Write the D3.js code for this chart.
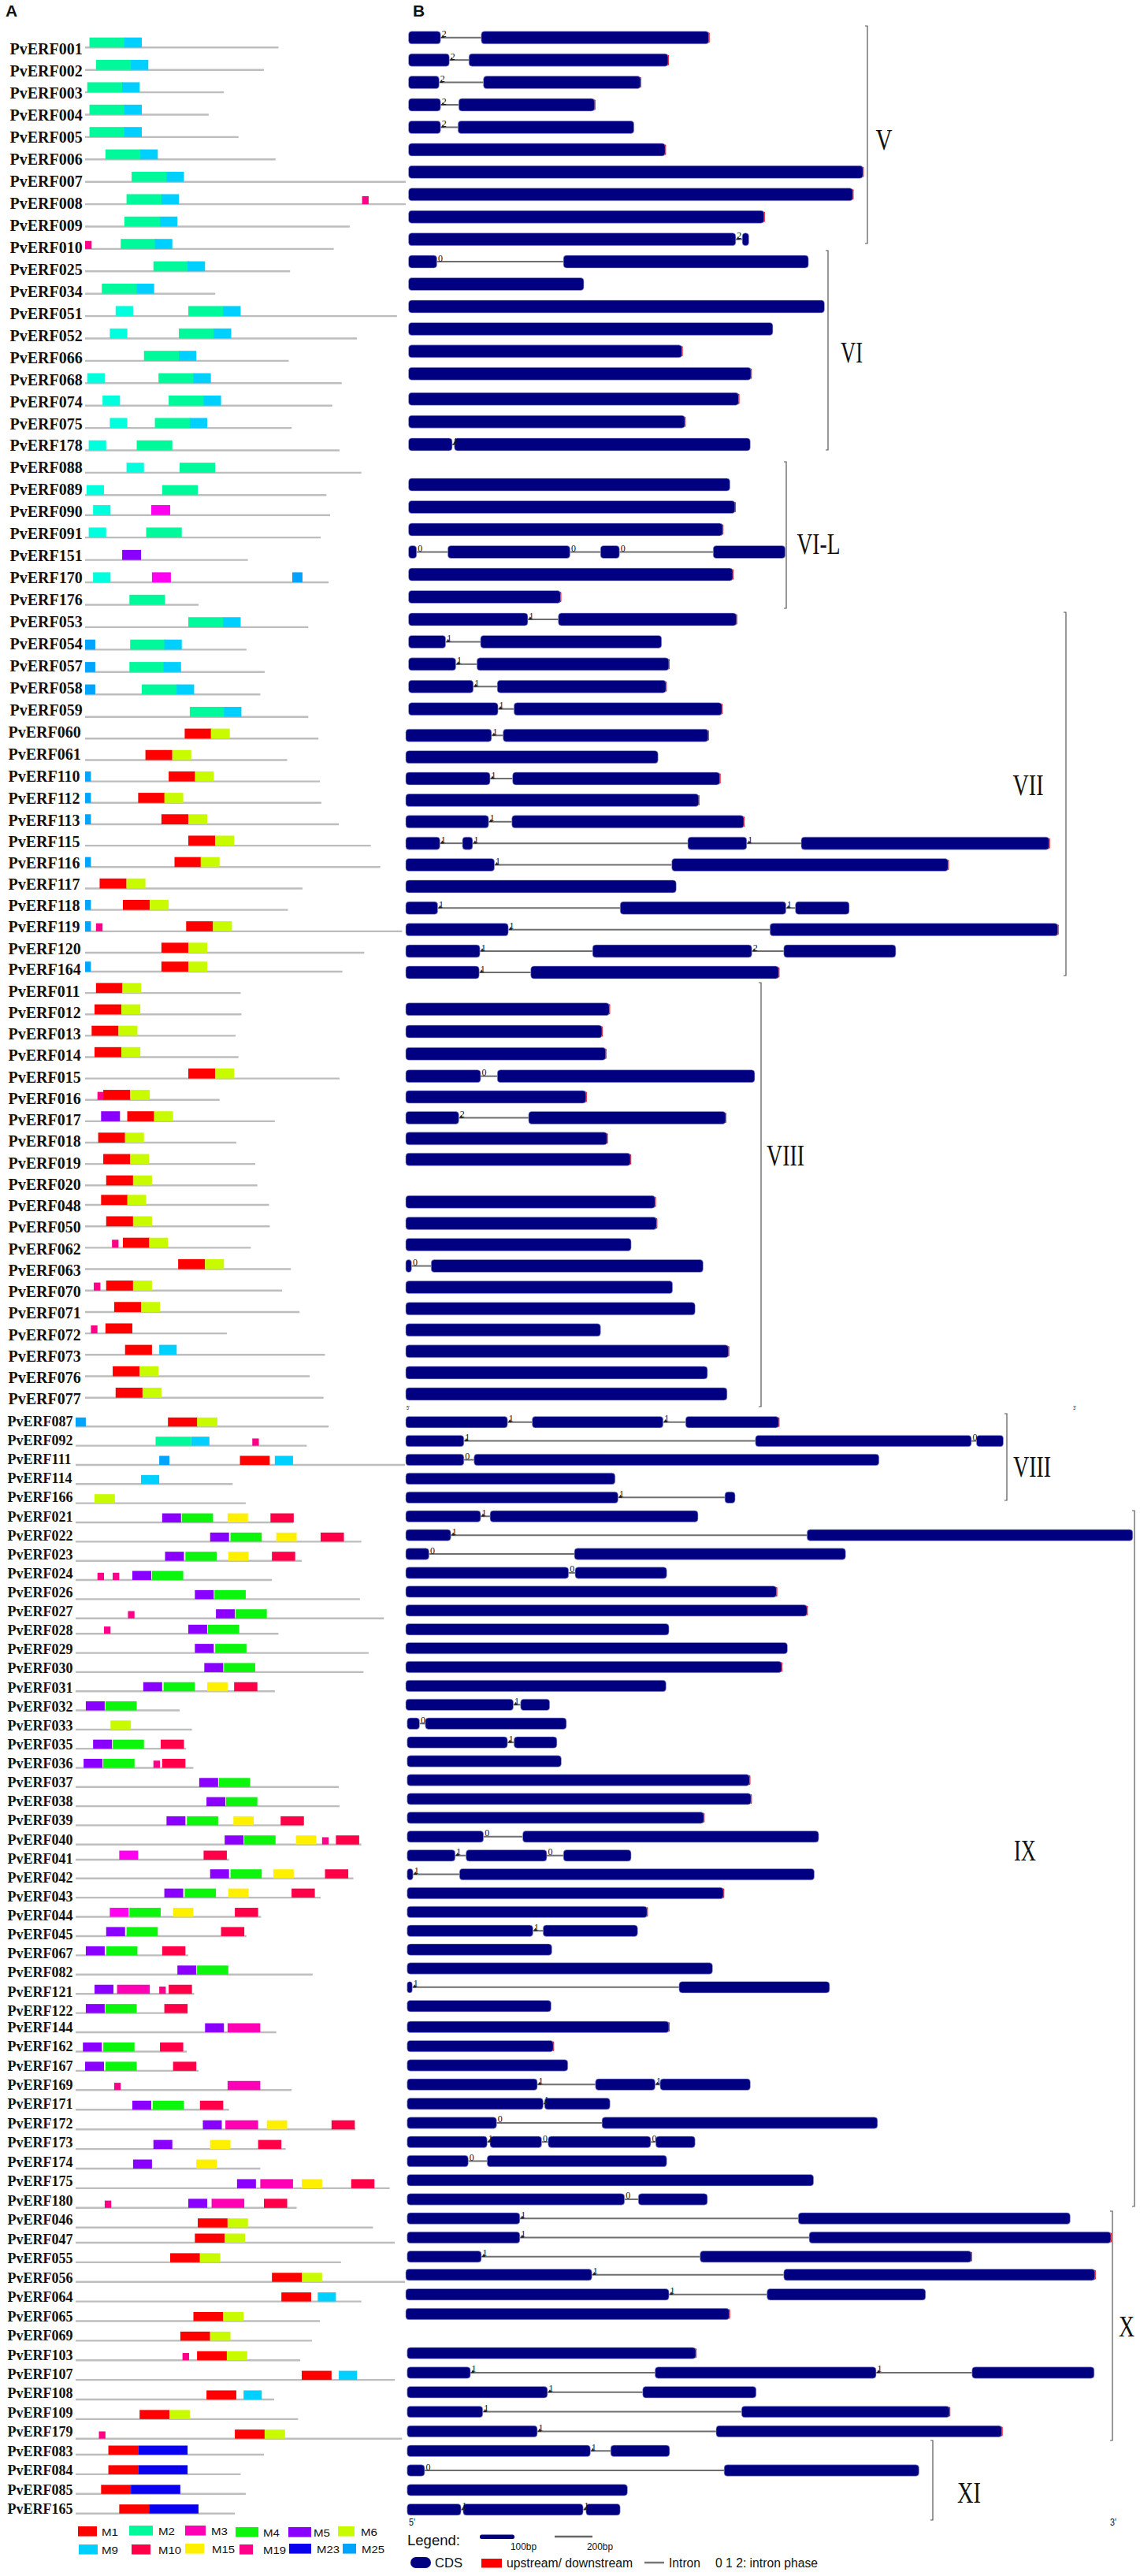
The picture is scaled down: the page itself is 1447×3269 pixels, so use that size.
<!DOCTYPE html>
<html>
<head>
<meta charset="utf-8">
<title>PvERF motifs and gene structure</title>
<script src="https://cdnjs.cloudflare.com/ajax/libs/d3/7.8.5/d3.min.js"></script>
<style>
  body { margin: 0; background: #fff; }
  svg { display: block; }
  text { fill: #111; }
</style>
</head>
<body>
<div id="chart"></div>
<script>
// Gene names, one per row, top to bottom
var geneNames = ["PvERF001","PvERF002","PvERF003","PvERF004","PvERF005","PvERF006","PvERF007","PvERF008","PvERF009","PvERF010",
  "PvERF025","PvERF034","PvERF051","PvERF052","PvERF066","PvERF068","PvERF074","PvERF075","PvERF178","PvERF088",
  "PvERF089","PvERF090","PvERF091","PvERF151","PvERF170","PvERF176","PvERF053","PvERF054","PvERF057","PvERF058",
  "PvERF059","PvERF060","PvERF061","PvERF110","PvERF112","PvERF113","PvERF115","PvERF116","PvERF117","PvERF118",
  "PvERF119","PvERF120","PvERF164","PvERF011","PvERF012","PvERF013","PvERF014","PvERF015","PvERF016","PvERF017",
  "PvERF018","PvERF019","PvERF020","PvERF048","PvERF050","PvERF062","PvERF063","PvERF070","PvERF071","PvERF072",
  "PvERF073","PvERF076","PvERF077","PvERF087","PvERF092","PvERF111","PvERF114","PvERF166","PvERF021","PvERF022",
  "PvERF023","PvERF024","PvERF026","PvERF027","PvERF028","PvERF029","PvERF030","PvERF031","PvERF032","PvERF033",
  "PvERF035","PvERF036","PvERF037","PvERF038","PvERF039","PvERF040","PvERF041","PvERF042","PvERF043","PvERF044",
  "PvERF045","PvERF067","PvERF082","PvERF121","PvERF122","PvERF144","PvERF162","PvERF167","PvERF169","PvERF171",
  "PvERF172","PvERF173","PvERF174","PvERF175","PvERF180","PvERF046","PvERF047","PvERF055","PvERF056","PvERF064",
  "PvERF065","PvERF069","PvERF103","PvERF107","PvERF108","PvERF109","PvERF179","PvERF083","PvERF084","PvERF085","PvERF165"];

// Protein lengths (same order as geneNames)
var proteinLen = [266,246,191,170,211,262,441,441,364,342,
  282,179,429,374,280,353,340,284,350,380,
  332,337,324,224,335,156,307,222,247,241,
  307,321,278,323,325,349,393,406,299,279,
  436,384,354,214,215,207,211,350,185,261,
  208,234,237,253,254,228,283,271,295,195,
  330,309,328,348,318,453,216,234,299,393,
  311,270,391,424,279,403,396,274,143,160,
  152,162,362,363,313,393,211,382,337,255,
  235,155,326,163,154,276,153,169,297,211,
  385,289,254,432,304,409,439,365,453,393,
  336,325,309,439,273,306,449,259,227,234,219];

// Motif hits per protein: [motif, start] and an optional length for the short ones
var motifHits = [
  [["M2",6],["M9",54]],[["M2",15],["M9",63]],[["M2",3],["M9",51]],[["M2",6],["M9",54]],[["M2",6],["M9",54]],
  [["M2",28],["M9",76]],[["M2",64],["M9",112]],[["M2",57],["M9",105],["M19",381]],[["M2",54],["M9",103]],[["M19",0],["M2",49],["M9",96]],
  [["M2",94],["M9",141]],[["M2",23],["M9",71]],[["M7",42],["M2",142],["M9",190]],[["M7",34],["M2",129],["M9",177]],[["M2",81],["M9",129]],
  [["M7",3],["M2",101],["M9",149]],[["M7",24],["M2",115],["M9",163]],[["M7",34],["M2",96],["M9",144]],[["M7",5],["M2",71]],[["M7",57],["M2",130]],
  [["M7",2],["M2",106]],[["M7",11],["M12",91]],[["M7",5],["M2",84]],[["M5",51]],[["M7",11],["M12",92],["M25",285]],
  [["M2",61]],[["M2",142],["M9",190]],[["M25",0],["M2",62],["M9",109]],[["M25",0],["M2",61],["M9",108]],[["M25",0],["M2",78],["M9",126]],
  [["M2",144],["M9",191]],[["M1",137],["M6",173]],[["M1",83],["M6",120]],[["M25",0,8],["M1",115],["M6",151]],[["M25",0,8],["M1",73],["M6",109]],
  [["M25",0,8],["M1",105],["M6",142]],[["M1",142],["M6",179]],[["M25",0,8],["M1",123],["M6",159]],[["M1",20],["M6",57]],[["M25",0,8],["M1",52],["M6",89]],
  [["M25",0,8],["M19",15],["M1",139],["M6",176]],[["M1",105],["M6",142]],[["M25",0,8],["M1",105],["M6",142]],[["M1",15],["M6",51]],[["M1",13],["M6",50]],
  [["M1",9],["M6",46]],[["M1",13],["M6",50]],[["M1",142],["M6",179]],[["M19",17],["M1",25],["M6",63]],[["M5",22],["M1",58],["M6",95]],
  [["M1",18],["M6",55]],[["M1",25],["M6",62]],[["M1",29],["M6",66]],[["M1",22],["M6",58]],[["M1",29],["M6",66]],
  [["M19",37],["M1",52],["M6",88]],[["M1",128],["M6",165]],[["M19",12],["M1",29],["M6",66]],[["M1",40],["M6",77]],[["M19",8],["M1",28]],
  [["M1",55],["M9",102]],[["M1",38],["M6",75]],[["M1",42],["M6",79]],[["M25",0],["M1",127],["M6",167]],[["M2",110],["M9",159],["M19",243]],
  [["M25",115],["M1",226],["M9",274]],[["M9",90]],[["M6",26]],[["M5",119],["M4",146],["M15",209],["M10",268]],[["M5",185],["M4",213],["M15",276],["M10",337]],
  [["M5",123],["M4",151],["M15",210],["M10",270]],[["M19",30],["M19",51],["M5",78],["M4",105]],[["M5",164],["M4",191]],[["M19",72],["M5",193],["M4",220]],[["M19",39],["M5",155],["M4",182]],
  [["M5",164],["M4",192]],[["M5",177],["M4",204]],[["M5",93],["M4",121],["M15",181],["M10",218]],[["M5",14],["M4",41]],[["M6",48]],
  [["M5",24],["M4",51],["M10",117]],[["M5",11],["M4",38],["M19",107],["M10",119]],[["M5",170],["M4",197]],[["M5",180],["M4",207]],[["M5",125],["M4",153],["M15",217],["M10",282]],
  [["M5",205],["M4",232],["M15",303],["M19",339],["M10",358]],[["M12",60],["M10",176]],[["M5",185],["M4",213],["M15",272],["M10",343]],[["M5",122],["M4",150],["M15",210],["M10",297]],[["M12",47],["M4",74],["M15",134],["M10",219]],
  [["M5",42],["M4",70],["M10",200]],[["M5",14],["M4",42],["M10",119]],[["M5",140],["M4",167]],[["M5",26],["M3",57],["M19",115],["M10",128]],[["M5",14],["M4",41],["M10",122]],
  [["M5",178],["M3",209]],[["M5",10],["M4",38],["M10",116]],[["M5",13],["M4",41],["M10",134]],[["M19",53],["M3",209]],[["M5",78],["M4",106],["M10",171]],
  [["M5",175],["M3",206],["M15",263],["M10",352]],[["M5",107],["M15",185],["M10",251]],[["M5",79],["M15",166]],[["M5",222],["M3",254],["M15",311],["M10",379]],[["M19",40],["M5",155],["M3",187],["M10",259]],
  [["M1",168],["M6",209]],[["M1",164],["M6",205]],[["M1",130],["M6",171]],[["M1",270],["M6",311]],[["M1",283],["M9",333]],
  [["M1",162],["M6",203]],[["M1",144],["M6",185]],[["M19",147],["M1",167],["M6",208]],[["M1",311],["M9",362]],[["M1",180],["M9",231]],
  [["M1",88],["M6",129]],[["M19",32],["M1",219],["M6",260]],[["M1",45],["M23",86]],[["M1",45],["M23",86]],[["M1",35],["M23",76]],[["M1",60],["M23",101]]
];

// Gene structure: exon, intron, exon, ... lengths ([] = nothing drawn)
var geneParts = [
  [44,56,313],[56,27,274],[42,61,216],[44,25,187],[44,24,242],[353],[625],[611],[489],[450,9,9],
  [39,174,337],[241],[572],[501],[376],[471],[454],[380],[60,3,407],[],
  [442],[449],[432],[11,43,168,42,26,129,99],[446],[209],[164,42,245],[51,48,249],[65,29,264],[89,33,232],
  [123,22,286],[118,16,282],[347],[116,31,285],[403],[114,32,319],[47,31,14,296,81,75,341],[122,244,380],[372],[44,251,228,13,74],
  [141,360,396],[102,155,219,44,154],[101,71,341],[],[280],[270],[275],[103,23,354],[248],[73,96,271],
  [277],[309],[],[343],[345],[310],[8,27,374],[367],[398],[268],
  [444],[415],[442],[140,34,180,31,128],[80,401,297,7,37],[80,14,557],[288],[292,147,14],[103,13,286],[62,490,448],
  [32,200,373],[224,9,126],[510],[552],[362],[525],[517],[358],[148,10,40],[17,8,194],
  [138,9,59],[212],[471],[473],[408],[105,54,407],[66,15,111,23,93],[8,64,488],[435],[330],
  [173,14,130],[199],[420],[7,367,207],[198],[360],[201],[221],[179,80,82,7,124],[187,2,90],
  [123,145,379],[110,4,71,9,141,7,54],[84,26,247],[559],[299,19,95],[155,383,374],[155,398,415],[102,301,373],[256,264,428],[362,135,218],
  [445],[],[397],[87,254,304,132,168],[193,131,156],[104,356,286],[179,246,393],[252,28,81],[24,412,268],[303],[74,3,165,4,47]
];

// Intron phase printed after each exon
var intronPhases = [
  [2],[2],[2],[2],[2],[],[],[],[],[2],
  [0],[],[],[],[],[],[],[],[1],[],
  [],[],[],[0,0,0],[],[],[1],[1],[1],[1],
  [1],[1],[],[1],[],[1],[1,1,1],[1],[],[1,1],
  [1],[1,2],[1],[],[],[],[],[0],[],[2],
  [],[],[],[],[],[],[0],[],[],[],
  [],[],[],[1,1],[1,0],[0],[],[1],[1],[1],
  [0],[0],[],[],[],[],[],[],[1],[0],
  [1],[],[],[],[],[0],[1,0],[1],[],[],
  [1],[],[],[1],[],[],[],[],[1,1],[1],
  [0],[1,0,0],[0],[],[0],[1],[1],[1],[1],[1],
  [],[],[],[1,1],[1],[1],[1],[1],[0],[],[1,1]
];

// Genes whose last exon ends in a red downstream tip
var downstreamTips = ["PvERF001","PvERF002","PvERF003","PvERF004","PvERF006","PvERF007","PvERF008","PvERF009","PvERF066","PvERF068",
  "PvERF074","PvERF075","PvERF090","PvERF091","PvERF170","PvERF176","PvERF053","PvERF057","PvERF058","PvERF059","PvERF060","PvERF110",
  "PvERF112","PvERF113","PvERF115","PvERF116","PvERF119","PvERF164","PvERF012","PvERF013","PvERF014","PvERF016","PvERF017","PvERF018",
  "PvERF019","PvERF048","PvERF050","PvERF073","PvERF087","PvERF026","PvERF027","PvERF030","PvERF037","PvERF038","PvERF039","PvERF043",
  "PvERF044","PvERF144","PvERF162","PvERF065","PvERF103","PvERF109","PvERF179","PvERF055","PvERF047","PvERF056"];

// Motif names, lengths and colours. M7 and M12 appear in panel A but not in its legend.
var motifNames = ["M1","M2","M3","M4","M5","M6","M7","M9","M10","M12","M15","M19","M23","M25"];
var motifLens = [37,49,45,43,26,26,24,24,32,26,28,9,68,14];
var motifLensLower = [41,49,45,43,26,28,24,25,32,26,28,9,68,14];
var motifColors = ["#ff0000","#00f99a","#ff00b4","#0cf50c","#8a00ff","#c8fa00","#00ffdc","#00d0ff","#ff0048","#ff00f0","#fff000","#ff0088","#0a00f0","#00a4ff"];

// Subfamily brackets: name, top, bottom, x of the bar, x of the label, y of the label, label width
var groupNames = ["V","VI","VI-L","VII","VIII","VIII","IX","X","XI"];
var groupTop = [33,318,586,777,1247,1794,1917,2806,3097];
var groupBottom = [309,571,772,1238,1785,1904,2800,3097,3198];
var groupBar = [1101,1051,998,1353,966,1278,1440,1412,1184];
var groupLabelX = [1122,1081,1039,1305,997,1310,1301,1430,1230];
var groupLabelY = [177,447,690,996,1466,1861,2348,2952,3163];
var groupLabelW = [21,28,55,39,48,48,28,20,30];

// Legend of panel A
var legendOrder = ["M1","M2","M3","M4","M5","M6","M9","M10","M15","M19","M23","M25"];
var legendSwatchX = [99,164,235,299,366,429,100,167,235,304,367,435];
var legendSwatchW = [24,30,26,29,29,21,24,24,24,17,28,17];
var legendSwatchY = [3206,3205,3205,3207,3207,3206,3229,3229,3228,3229,3228,3228];
var legendLabelX = [129,201,268,334,398,458,129,201,269,334,402,459];

var svgWidth = 1447;
var svgHeight = 3269;

var svg = d3.select("#chart")
  .append("svg")
  .attr("width", svgWidth)
  .attr("height", svgHeight);

// Panel scales: one reading unit in both panels is about 0.92 px
var unitScale = d3.scaleLinear().domain([0, 1000]).range([0, 922.8]);

// Rows are not evenly spaced in the figure, so y is a piecewise scale over row index
var lineY = d3.scaleLinear()
  .domain([0,20,21,30,31,41,42,52,53,62,63,73,74,85,86,87,98,99,105,106,116,117,120])
  .range([60.3,628.3,653.7,909.7,937.3,1209,1233,1504.3,1529,1773.7,1810.3,2053.7,2073.3,2340.7,2360,2383.7,2652.3,2677.3,2826.7,2846,3094.7,3115,3189.7]);

var geneY = d3.scaleLinear()
  .domain([0,15,16,18,20,26,30,31,41,42,44,47,48,51,53,62,63,85,86,94,95,98,99,107,108,109,120])
  .range([47.7,474.3,506.3,564,615,786,899.7,933.3,1207,1234,1280.7,1365.7,1392,1471.3,1525.3,1769,1804.7,2330.7,2354.7,2545.7,2572.3,2645.3,2669.7,2863.7,2886.7,2911.7,3184.7]);

var labelY = d3.scaleLinear()
  .domain([0,30,31,35,36,41,42,62,63,94,95,120])
  .range([62.7,901.3,929,1041,1068.3,1204,1230.7,1775.7,1804,2551.7,2572.7,3184.3]);

// Row-block settings
var proteinStart = d3.scaleThreshold().domain([63]).range([108, 96]);
var geneStart = d3.scaleThreshold().domain([31, 79, 108, 112]).range([518.6, 515, 516.8, 515, 516.8]);
var motifColor = d3.scaleOrdinal().domain(motifNames).range(motifColors);
var motifLen = d3.scaleOrdinal().domain(motifNames).range(motifLens);
var motifLenLower = d3.scaleOrdinal().domain(motifNames).range(motifLensLower);

var rows = geneNames.map(function(name, i) {
  return { name: name, row: i, len: proteinLen[i], hits: motifHits[i], parts: geneParts[i], phases: intronPhases[i] };
});

// Panel letters
svg.selectAll(".panelLetter")
  .data([["A", 7], ["B", 524]])
  .enter()
  .append("text")
  .attr("class", "panelLetter")
  .attr("x", d => d[1])
  .attr("y", 21)
  .attr("font-family", "Liberation Sans")
  .attr("font-weight", "bold")
  .attr("font-size", "21px")
  .text(d => d[0]);

// Gene labels
svg.append("g").selectAll("text")
  .data(rows)
  .enter()
  .append("text")
  .attr("x", d => d.row < 31 ? 12.5 : (d.row < 63 ? 10.5 : 9.5))
  .attr("y", d => labelY(d.row))
  .attr("dy", "0.33em")
  .attr("font-family", "Liberation Serif")
  .attr("font-weight", "bold")
  .attr("font-size", d => d.row < 63 ? "20px" : "18px")
  .text(d => d.name);

// Panel A: protein lines
svg.append("g").selectAll("line")
  .data(rows)
  .enter()
  .append("line")
  .attr("x1", d => proteinStart(d.row))
  .attr("x2", d => proteinStart(d.row) + unitScale(d.len))
  .attr("y1", d => lineY(d.row))
  .attr("y2", d => lineY(d.row))
  .attr("stroke", "#bdbdbd")
  .attr("stroke-width", 2.4);

// Panel A: motif boxes sit on the protein line
var motifBoxes = rows.flatMap(function(r) {
  return r.hits.map(function(h) {
    return { row: r.row, motif: h[0], start: h[1], len: h[2] || (r.row < 63 ? motifLen(h[0]) : motifLenLower(h[0])) };
  });
});

svg.append("g").selectAll("rect")
  .data(motifBoxes)
  .enter()
  .append("rect")
  .attr("x", d => proteinStart(d.row) + unitScale(d.start))
  .attr("width", d => unitScale(d.len))
  .attr("y", function(d) {
    var h = d.row < 63 ? 12.7 : 11.5;
    return lineY(d.row) - (d.motif == "M19" ? h * 0.8 : h);
  })
  .attr("height", function(d) {
    var h = d.row < 63 ? 12.7 : 11.5;
    return d.motif == "M19" ? h * 0.8 : h;
  })
  .attr("fill", d => motifColor(d.motif));

// Panel B: walk each gene's parts into exon and intron segments
var segments = rows.flatMap(function(r) {
  var pos = 0;
  return r.parts.map(function(len, k) {
    var seg = { row: r.row, name: r.name, start: pos, len: len, exon: k % 2 == 0, index: k, last: k == r.parts.length - 1, phase: r.phases[(k - 1) / 2] };
    pos += len;
    return seg;
  });
});

var introns = segments.filter(d => !d.exon);
var exons = segments.filter(d => d.exon);

svg.append("g").selectAll("line")
  .data(introns)
  .enter()
  .append("line")
  .attr("x1", d => geneStart(d.row) + unitScale(d.start))
  .attr("x2", d => geneStart(d.row) + unitScale(d.start + d.len))
  .attr("y1", d => geneY(d.row))
  .attr("y2", d => geneY(d.row))
  .attr("stroke", "#6e6e6e")
  .attr("stroke-width", 2);

// Red tips go under the exons so only a sliver shows
svg.append("g").selectAll("rect")
  .data(exons.filter(d => d.last && downstreamTips.indexOf(d.name) >= 0))
  .enter()
  .append("rect")
  .attr("x", d => geneStart(d.row) + unitScale(d.start + d.len) - 6)
  .attr("width", 7)
  .attr("y", d => geneY(d.row) - (d.row < 63 ? 6.5 : 6))
  .attr("height", d => d.row < 63 ? 13 : 12)
  .attr("rx", 1)
  .attr("fill", "#ff0000");

svg.append("g").selectAll("rect")
  .data(exons)
  .enter()
  .append("rect")
  .attr("x", d => geneStart(d.row) + unitScale(d.start))
  .attr("width", d => unitScale(d.len))
  .attr("y", d => geneY(d.row) - (d.row < 63 ? 8 : 7.2))
  .attr("height", d => d.row < 63 ? 16 : 14.4)
  .attr("rx", d => Math.min(4, unitScale(d.len) / 2))
  .attr("fill", "#000080")
  .attr("stroke", "#a9a9d8")
  .attr("stroke-width", 0.6);

// Intron phase digits and their small marks
svg.append("g").selectAll("text")
  .data(introns)
  .enter()
  .append("text")
  .attr("x", d => geneStart(d.row) + unitScale(d.start) + 1.5)
  .attr("y", d => geneY(d.row) - 0.5)
  .attr("font-family", "Liberation Serif")
  .attr("font-size", "12px")
  .text(d => d.phase);

svg.append("g").selectAll("path")
  .data(introns.filter(d => d.phase > 0))
  .enter()
  .append("path")
  .attr("d", d3.symbol().type(d3.symbolTriangle).size(9))
  .attr("transform", d => "translate(" + (geneStart(d.row) + unitScale(d.start) + 3) + "," + (geneY(d.row) - 1) + ")")
  .attr("fill", "#222");

// Subfamily brackets and names
var groupIdx = d3.range(groupNames.length);

svg.append("g").selectAll("path")
  .data(groupIdx)
  .enter()
  .append("path")
  .attr("d", function(i) {
    return "M" + (groupBar[i] - 3) + "," + groupTop[i] + "H" + groupBar[i] + "V" + groupBottom[i] + "H" + (groupBar[i] - 3);
  })
  .attr("fill", "none")
  .attr("stroke", "#555")
  .attr("stroke-width", 1.2);

svg.append("g").selectAll("text")
  .data(groupIdx)
  .enter()
  .append("text")
  .attr("x", i => groupLabelX[i] - groupLabelW[i] / 2)
  .attr("y", i => groupLabelY[i] + 12.5)
  .attr("font-family", "Liberation Serif")
  .attr("font-size", "37px")
  .attr("textLength", i => groupLabelW[i])
  .attr("lengthAdjust", "spacingAndGlyphs")
  .text(i => groupNames[i]);

// Panel A legend
var legendIdx = d3.range(legendOrder.length);

svg.append("g").selectAll("rect")
  .data(legendIdx)
  .enter()
  .append("rect")
  .attr("x", i => legendSwatchX[i])
  .attr("y", i => legendSwatchY[i])
  .attr("width", i => legendSwatchW[i])
  .attr("height", 12.6)
  .attr("fill", i => motifColor(legendOrder[i]));

svg.append("g").selectAll("text")
  .data(legendIdx)
  .enter()
  .append("text")
  .attr("x", i => legendLabelX[i])
  .attr("y", i => legendSwatchY[i] + 12)
  .attr("font-family", "Liberation Sans")
  .attr("font-size", "13px")
  .attr("textLength", i => legendOrder[i].length == 2 ? 21 : 29)
  .attr("lengthAdjust", "spacingAndGlyphs")
  .text(i => legendOrder[i]);

// Panel B legend
var keyGroup = svg.append("g");

function keyText(txt, x, y, size, width) {
  keyGroup.append("text")
    .attr("x", x)
    .attr("y", y)
    .attr("font-family", "Liberation Sans")
    .attr("font-size", size + "px")
    .attr("textLength", width)
    .attr("lengthAdjust", "spacingAndGlyphs")
    .attr("fill", "#333")
    .text(txt);
}

keyText("5'", 519, 3205, 12, 8);
keyText("3'", 1409, 3205, 12, 8);
keyText("5'", 516, 1789, 8, 4);
keyText("3'", 1362, 1789, 8, 4);
keyText("Legend:", 517, 3230, 19, 67);
keyText("100bp", 648, 3236, 13, 33);
keyText("200bp", 745, 3236, 13, 33);
keyText("CDS", 552, 3258, 16, 35);
keyText("upstream/ downstream", 643, 3258, 16, 160);
keyText("Intron", 849, 3258, 16, 40);
keyText("0 1 2: intron phase", 908, 3258, 16, 130);

keyGroup.append("rect").attr("x", 609).attr("y", 3216.5).attr("width", 44).attr("height", 5.5).attr("rx", 2.5).attr("fill", "#000080");
keyGroup.append("line").attr("x1", 704).attr("x2", 752).attr("y1", 3219).attr("y2", 3219).attr("stroke", "#666").attr("stroke-width", 2.5);
keyGroup.append("rect").attr("x", 521).attr("y", 3245).attr("width", 26).attr("height", 14).attr("rx", 7).attr("fill", "#000080");
keyGroup.append("rect").attr("x", 611).attr("y", 3247).attr("width", 26).attr("height", 11.5).attr("fill", "#ff0000");
keyGroup.append("line").attr("x1", 818).attr("x2", 843).attr("y1", 3252).attr("y2", 3252).attr("stroke", "#777").attr("stroke-width", 2.5);
</script>
</body>
</html>
